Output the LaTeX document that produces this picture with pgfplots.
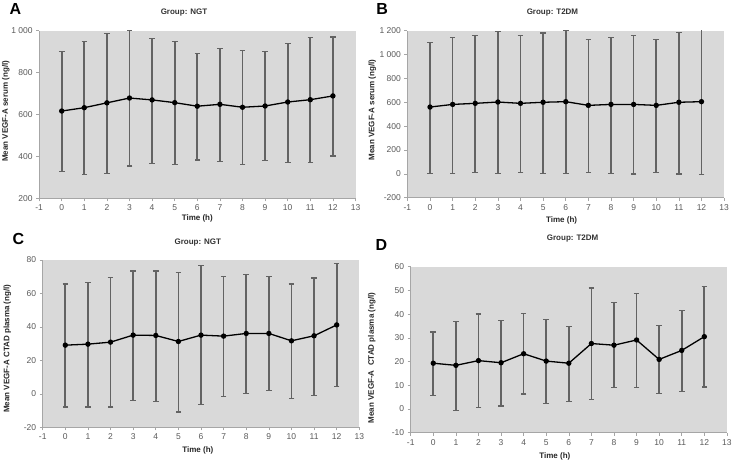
\documentclass[border=0pt]{standalone}
\usepackage{pgfplots}
\pgfplotsset{compat=1.18}
\usepackage{pgfplotstable}
\usepackage{fontspec}
\setmainfont{Liberation Sans}
\setsansfont{Liberation Sans}
\definecolor{bggray}{HTML}{D9D9D9}
\definecolor{errgray}{HTML}{636363}
\definecolor{tickgray}{HTML}{595959}
\definecolor{axgray}{HTML}{A6A6A6}

\pgfplotstableread{
x y ep em
0 617 283 289
1 633 315 317
2 656 330 337
3 679 324 324
4 670 292 303
5 657 292 296
6 640 252 256
7 649 267 272
8 635 270 274
9 641 259 261
10 660 278 287
11 671 296 301
12 689 281 286
}\dataA

\pgfplotstableread{
x y ep em
0 560 541 555
1 582 563 577
2 591 571 579
3 602 593 597
4 591 571 579
5 600 581 595
6 605 600 600
7 574 555 562
8 582 563 577
9 582 577 584
10 574 555 562
11 600 586 602
12 605 613 613
}\dataB

\pgfplotstableread{
x y ep em
0 29.1 36.6 36.9
1 29.7 37.0 37.5
2 30.9 38.6 38.7
3 35.1 38.4 38.9
4 34.9 38.6 39.3
5 31.3 41.2 42.1
6 35.1 41.8 41.5
7 34.5 35.6 36.1
8 36.1 35.4 36.1
9 36.1 34.0 34.3
10 31.7 34.0 34.5
11 34.7 34.6 35.5
12 41.2 36.9 36.8
}\dataC

\pgfplotstableread{
x y ep em
0 19.3 13.2 13.5
1 18.4 18.6 19.0
2 20.4 19.7 19.7
3 19.5 17.9 18.2
4 23.3 17.1 17.0
5 20.2 17.5 18.0
6 19.3 15.4 16.1
7 27.6 23.4 23.7
8 26.9 18.0 17.9
9 29.1 19.7 20.1
10 20.9 14.3 14.4
11 24.7 16.9 17.2
12 30.5 21.1 21.2
}\dataD

\pgfplotsset{
  panel/.style={
    scale only axis,
    anchor=south west,
    xmin=-1, xmax=13,
    xtick={-1,0,...,13},
    axis background/.style={fill=bggray},
    axis x line*=bottom,
    axis y line*=left,
    axis line style={draw=axgray, line width=0.6pt},
    tick style={draw=axgray, line width=0.6pt},
    tick align=outside,
    major tick length=3pt,
    tick label style={font=\fontsize{8.5}{10}\selectfont, text=tickgray},
    /pgf/number format/assume math mode=true,
    /pgf/number format/1000 sep={\ },
    label style={font=\bfseries\fontsize{8}{9.6}\selectfont, text=black!85},
    title style={font=\bfseries\fontsize{8}{9.6}\selectfont, text=black!80, anchor=center},
    xlabel={Time (h)},
  },
  errs/.style={
    forget plot, draw=none, mark=none,
    error bars/.cd, y dir=both, y explicit,
    error bar style={draw=errgray, line width=1.7pt},
    error mark options={draw=errgray, line width=1.3pt, mark size=2.8pt, rotate=90},
  },
  meanline/.style={black, line width=1.3pt, mark=*, mark size=2pt, mark options={fill=black}},
}

\begin{document}
\begin{tikzpicture}
\useasboundingbox (0pt,0pt) rectangle (733pt,463pt);

% Panel A
\begin{axis}[panel, at={(39.1pt,264.5pt)}, width=316.4pt, height=167.8pt,
  ymin=200, ymax=1000, ytick={200,400,...,1000},
  ylabel={Mean VEGF-A serum (ng/l)},
  ylabel style={at={(axis description cs:-0.105,0.52)}, anchor=center},
  xlabel style={at={(axis description cs:0.5,0)}, anchor=center, yshift=-20pt},
  title={Group: NGT}, title style={at={(axis description cs:0.458,1)}, yshift=11.7pt}]
\addplot[errs] table[x=x, y=y, y error plus=ep, y error minus=em] {\dataA};
\addplot[meanline] table[x=x, y=y] {\dataA};
\end{axis}

% Panel B
\begin{axis}[panel, at={(407.4pt,265.3pt)}, width=316.7pt, height=167pt,
  ymin=-200, ymax=1200, ytick={-200,0,...,1200},
  ylabel={Mean VEGF-A serum (ng/l)},
  ylabel style={at={(axis description cs:-0.111,0.525)}, anchor=center},
  xlabel style={at={(axis description cs:0.487,0)}, anchor=center, yshift=-22.3pt},
  title={Group: T2DM}, title style={at={(axis description cs:0.458,1)}, yshift=11.7pt}]
\addplot[errs] table[x=x, y=y, y error plus=ep, y error minus=em] {\dataB};
\addplot[meanline] table[x=x, y=y] {\dataB};
\end{axis}

% Panel C
\begin{axis}[panel, at={(42.7pt,35.7pt)}, width=316.6pt, height=167.3pt,
  ymin=-20, ymax=80, ytick={-20,0,...,80},
  ylabel={Mean VEGF-A CTAD plasma (ng/l)},
  ylabel style={at={(axis description cs:-0.112,0.47)}, anchor=center},
  xlabel style={at={(axis description cs:0.49,0)}, anchor=center, yshift=-23.4pt},
  title={Group: NGT}, title style={at={(axis description cs:0.49,1)}, yshift=11pt}]
\addplot[errs] table[x=x, y=y, y error plus=ep, y error minus=em] {\dataC};
\addplot[meanline] table[x=x, y=y] {\dataC};
\end{axis}

% Panel D
\begin{axis}[panel, at={(410.7pt,30.3pt)}, width=316.2pt, height=166pt,
  ymin=-10, ymax=60, ytick={-10,0,...,60},
  ylabel={Mean VEGF-A\ \ CTAD plasma (ng/l)},
  ylabel style={at={(axis description cs:-0.123,0.45)}, anchor=center},
  xlabel style={at={(axis description cs:0.456,0)}, anchor=center, yshift=-24pt},
  title={Group: T2DM}, title style={at={(axis description cs:0.512,1)}, yshift=21.7pt}]
\addplot[errs] table[x=x, y=y, y error plus=ep, y error minus=em] {\dataD};
\addplot[meanline] table[x=x, y=y] {\dataD};
\end{axis}

\node[font=\bfseries\fontsize{16}{18}\selectfont] at (15.3pt,453.8pt) {A};
\node[font=\bfseries\fontsize{16}{18}\selectfont] at (382.2pt,453.5pt) {B};
\node[font=\bfseries\fontsize{16}{18}\selectfont] at (18.3pt,224pt) {C};
\node[font=\bfseries\fontsize{16}{18}\selectfont] at (381.3pt,217.7pt) {D};
\end{tikzpicture}
\end{document}
